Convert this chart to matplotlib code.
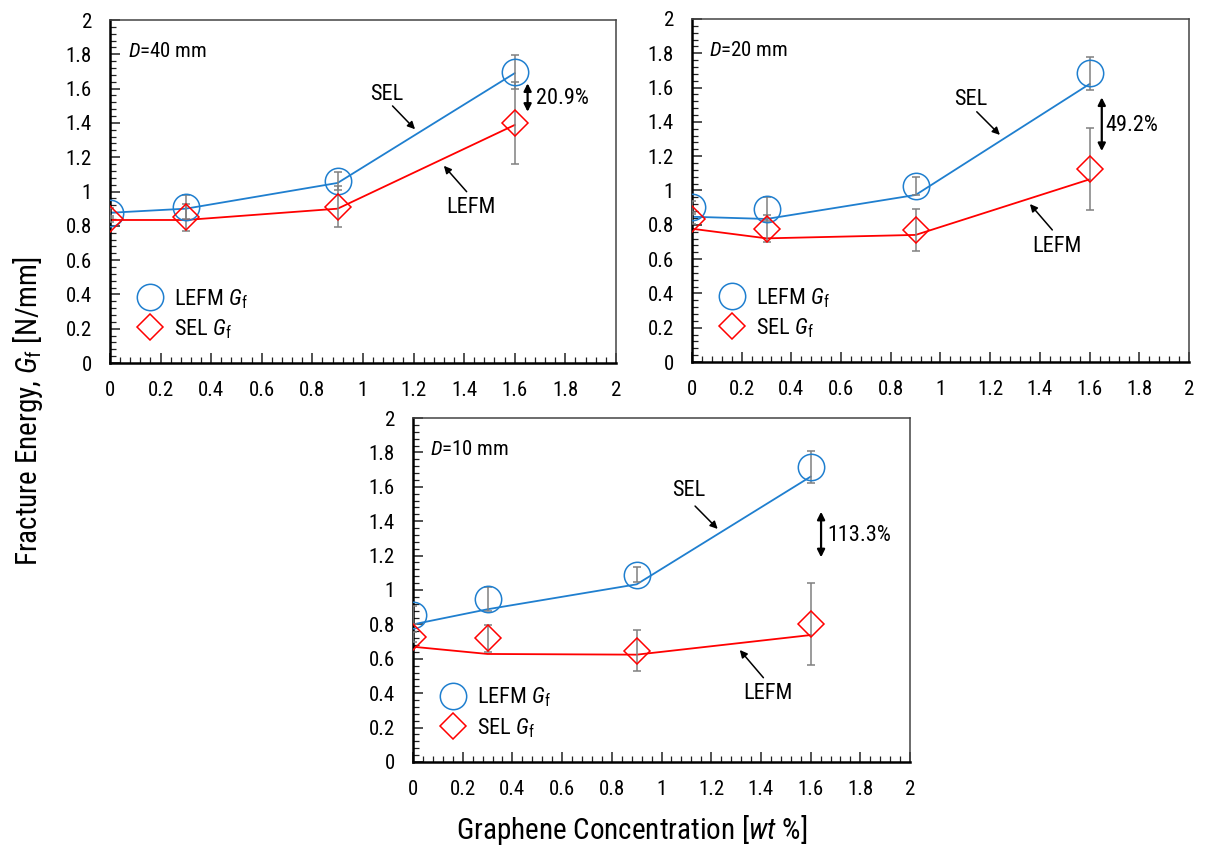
import numpy as np
import matplotlib
matplotlib.use("Agg")
import matplotlib.pyplot as plt
from matplotlib import font_manager
from matplotlib.lines import Line2D
from matplotlib.ticker import MultipleLocator, FuncFormatter

# look for a narrow Arial-like face; fall back to Liberation Sans
_fonts = font_manager.fontManager.ttflist
_names = {f.name for f in _fonts}
FAM, STRETCH, NARROW = "Liberation Sans", "normal", False
for cand in ["Liberation Sans Narrow", "Arial Narrow", "Roboto Condensed",
             "Open Sans Condensed", "Noto Sans Condensed"]:
    if cand in _names:
        FAM, NARROW = cand, True
        break
if not NARROW:
    for cand in ["Roboto", "Noto Sans", "Open Sans"]:
        if any(f.name == cand and f.stretch in ("condensed", "semi-condensed") for f in _fonts):
            FAM, STRETCH, NARROW = cand, "condensed", True
            break

plt.rcParams["font.family"] = [FAM, "DejaVu Sans"]
plt.rcParams["font.stretch"] = STRETCH
plt.rcParams["mathtext.fontset"] = "custom"
plt.rcParams["mathtext.rm"] = FAM
plt.rcParams["mathtext.it"] = FAM + ":italic"
plt.rcParams["mathtext.bf"] = FAM + ":bold"

k = 1.0 if NARROW else 0.88   # shrink text a bit if only a wide face exists

# ---- data ----
conc = [0.0, 0.3, 0.9, 1.6]
size_labels = ["40", "20", "10"]

# measured points: LEFM Gf (circles), SEL Gf (diamonds)
lefm_pts = [[0.876, 0.911, 1.061, 1.695],
            [0.906, 0.892, 1.026, 1.683],
            [0.855, 0.946, 1.089, 1.715]]
lefm_err = [[0.03, 0.07, 0.05, 0.10],
            [0.03, 0.07, 0.05, 0.095],
            [0.05, 0.07, 0.045, 0.095]]
sel_pts = [[0.840, 0.850, 0.911, 1.399],
           [0.834, 0.777, 0.770, 1.125],
           [0.727, 0.719, 0.647, 0.802]]
sel_err = [[0.02, 0.08, 0.12, 0.24],
           [0.03, 0.08, 0.12, 0.24],
           [0.03, 0.08, 0.12, 0.24]]

# model curves (blue = SEL, red = LEFM)
sel_line = [[0.876, 0.900, 1.050, 1.690],
            [0.847, 0.834, 0.974, 1.621],
            [0.800, 0.888, 1.033, 1.659]]
lefm_line = [[0.834, 0.834, 0.900, 1.388],
             [0.777, 0.721, 0.741, 1.065],
             [0.670, 0.628, 0.624, 0.738]]

gap_labels = ["20.9%", "49.2%", "113.3%"]

BLUE = "#1f7fcf"
RED = "#ff0000"
GREY = "#808080"

fig = plt.figure(figsize=(12.23, 8.55), dpi=100)
axes = [fig.add_axes([0.0899, 0.5754, 0.4137, 0.4012]),
        fig.add_axes([0.5658, 0.5766, 0.4064, 0.4012]),
        fig.add_axes([0.3377, 0.1088, 0.4064, 0.4023])]

# annotation placement per panel (data coords)
sel_txt = [(1.094, 1.567), (1.121, 1.533), (1.111, 1.577)]
sel_arrow = [((1.117, 1.499), (1.206, 1.363)),
             ((1.146, 1.459), (1.239, 1.324)),
             ((1.135, 1.488), (1.226, 1.355))]
lefm_txt = [(1.426, 0.908), (1.468, 0.676), (1.43, 0.40)]
lefm_arrow = [((1.41, 0.999), (1.32, 1.15)),
              ((1.45, 0.770), (1.36, 0.921)),
              ((1.41, 0.49), (1.315, 0.651))]
gap_arrow = [(1.651, 1.631, 1.465), (1.649, 1.543, 1.230), (1.642, 1.455, 1.190)]
gap_txt = [(1.684, 1.54), (1.665, 1.378), (1.669, 1.316)]

fmt = FuncFormatter(lambda v, p: "%g" % round(v, 2))

leg_handles = [Line2D([], [], ls="none", marker="o", ms=19, mfc="none", mec=BLUE, mew=1.1),
               Line2D([], [], ls="none", marker="D", ms=13, mfc="none", mec=RED, mew=1.1)]
leg_labels = [r"LEFM $\mathit{G}_\mathrm{f}$", r"SEL $\mathit{G}_\mathrm{f}$"]

for i, ax in enumerate(axes):
    ax.plot(conc, sel_line[i], color=BLUE, lw=1.3, zorder=2)
    ax.plot(conc, lefm_line[i], color=RED, lw=1.3, zorder=2)
    ax.errorbar(conc, lefm_pts[i], yerr=lefm_err[i], fmt="o", ms=19,
                mfc="none", mec=BLUE, mew=1.1, ecolor=GREY, elinewidth=1.1,
                capsize=3, capthick=1.1, zorder=3)
    ax.errorbar(conc, sel_pts[i], yerr=sel_err[i], fmt="D", ms=13,
                mfc="none", mec=RED, mew=1.1, ecolor=GREY, elinewidth=1.1,
                capsize=3, capthick=1.1, zorder=3)

    ax.set_xlim(0, 2)
    ax.set_ylim(0, 2)
    ax.xaxis.set_major_locator(MultipleLocator(0.2))
    ax.yaxis.set_major_locator(MultipleLocator(0.2))
    ax.xaxis.set_minor_locator(MultipleLocator(0.04))
    ax.yaxis.set_minor_locator(MultipleLocator(0.04))
    ax.xaxis.set_major_formatter(fmt)
    ax.yaxis.set_major_formatter(fmt)
    ax.tick_params(which="both", direction="in", top=False, right=False,
                   labelsize=15 * k, pad=13, color="#222222")
    ax.tick_params(which="major", length=7, width=1.1)
    ax.tick_params(which="minor", length=4, width=0.9)
    for s in ["left", "bottom"]:
        ax.spines[s].set_linewidth(1.8)
        ax.spines[s].set_color("black")
    for s in ["top", "right"]:
        ax.spines[s].set_linewidth(1.1)
        ax.spines[s].set_color("#444444")

    ax.text(0.07, 1.815, r"$\mathit{D}$=" + size_labels[i] + " mm",
            fontsize=15 * k, ha="left", va="center")

    ax.text(*sel_txt[i], "SEL", fontsize=16 * k, ha="center", va="center")
    ax.annotate("", xy=sel_arrow[i][1], xytext=sel_arrow[i][0],
                arrowprops=dict(arrowstyle="-|>", color="black", lw=1.1,
                                mutation_scale=11, shrinkA=0, shrinkB=0))
    ax.text(*lefm_txt[i], "LEFM", fontsize=16 * k, ha="center", va="center")
    ax.annotate("", xy=lefm_arrow[i][1], xytext=lefm_arrow[i][0],
                arrowprops=dict(arrowstyle="-|>", color="black", lw=1.1,
                                mutation_scale=11, shrinkA=0, shrinkB=0))
    gx, gy1, gy2 = gap_arrow[i]
    ax.annotate("", xy=(gx, gy1), xytext=(gx, gy2),
                arrowprops=dict(arrowstyle="<|-|>", color="black", lw=1.6,
                                mutation_scale=11, shrinkA=0, shrinkB=0))
    ax.text(*gap_txt[i], gap_labels[i], fontsize=16 * k, ha="left", va="center")

    ax.legend(leg_handles, leg_labels, loc="lower left", bbox_to_anchor=(0.0, 0.0),
              frameon=False, fontsize=16 * k, handlelength=1.6, handletextpad=0.3,
              labelspacing=0.3, borderaxespad=0.6)

fig.text(28 / 1223, 1 - 411 / 855, r"Fracture Energy, $G_\mathrm{f}$ [N/mm]",
         rotation=90, ha="center", va="center", fontsize=21 * k)
fig.text(632 / 1223, 1 - 830 / 855, r"Graphene Concentration [$\mathit{wt}$ %]",
         ha="center", va="center", fontsize=21 * k)

fig.savefig("out.png", dpi=100)
